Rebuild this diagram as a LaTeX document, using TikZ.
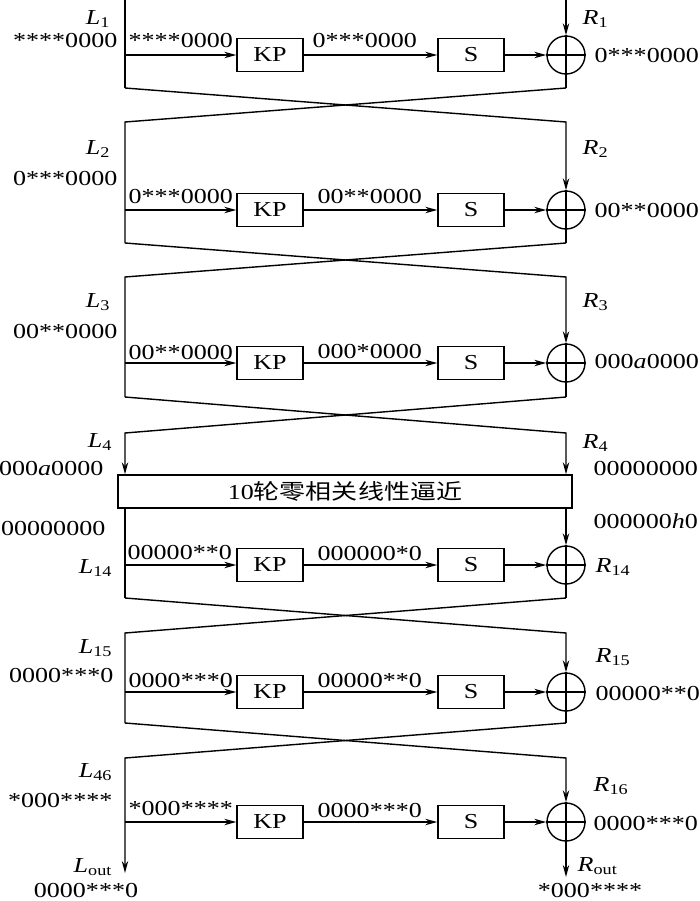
\documentclass[tikz,border=0pt]{standalone}
\usepackage{fontspec}
\setmainfont{Liberation Serif}
\newfontfamily\cjk{Noto Sans CJK SC}
\usetikzlibrary{arrows.meta}
\newcommand\W[1]{\scalebox{1.22}[1]{#1}}
\newcommand\Lb[2]{\W{\textit{#1}\textsubscript{#2}}}
\begin{document}
\begin{tikzpicture}[x=0.75pt,y=-0.75pt, line width=1.05pt,
  arr/.style={-{Stealth[length=9pt,width=4.8pt]}},
  fbox/.style={draw, minimum width=49.5pt, minimum height=24.75pt, inner sep=0pt, font=\fontsize{16}{19}\selectfont},
  xor/.style={draw, circle, minimum size=28.5pt, inner sep=0pt},
  lbl/.style={inner sep=0pt, font=\fontsize{16}{19}\selectfont},
]
\useasboundingbox (0,0) rectangle (700,901);

% ---------- round 1 ----------
\node[fbox] (kp1) at (270,55) {\W{KP}};
\node[fbox] (s1) at (471,55) {\W{S}};
\node[xor] (x1) at (566,55) {};
\coordinate (lt1) at (125,0); \coordinate (lm1) at (125,55); \coordinate (lb1) at (125,88);
\coordinate (rt1) at (566,0); \coordinate (rb1) at (566,88);
% ---------- round 2 ----------
\node[fbox] (kp2) at (270,210) {\W{KP}};
\node[fbox] (s2) at (471,210) {\W{S}};
\node[xor] (x2) at (566,210) {};
\coordinate (lt2) at (125,122); \coordinate (lm2) at (125,210); \coordinate (lb2) at (125,243);
\coordinate (rt2) at (566,122); \coordinate (rb2) at (566,243);
% ---------- round 3 ----------
\node[fbox] (kp3) at (270,363) {\W{KP}};
\node[fbox] (s3) at (471,363) {\W{S}};
\node[xor] (x3) at (566,363) {};
\coordinate (lt3) at (125,277); \coordinate (lm3) at (125,363); \coordinate (lb3) at (125,397);
\coordinate (rt3) at (566,277); \coordinate (rb3) at (566,397);
% ---------- round 4 / big box ----------
\coordinate (lt4) at (125,433); \coordinate (rt4) at (566,433);
\node[draw, minimum width=340.5pt, minimum height=24.75pt, inner sep=0pt] (big) at (345,491.5)
  {\fontsize{16}{19}\selectfont\W{10{\cjk 轮零相关线性逼近}}};
% ---------- round 14 ----------
\node[fbox] (kp14) at (270,565) {\W{KP}};
\node[fbox] (s14) at (471,565) {\W{S}};
\node[xor] (x14) at (566,565) {};
\coordinate (lm14) at (125,565); \coordinate (lb14) at (125,598);
\coordinate (rb14) at (566,598);
% ---------- round 15 ----------
\node[fbox] (kp15) at (270,692) {\W{KP}};
\node[fbox] (s15) at (471,692) {\W{S}};
\node[xor] (x15) at (566,692) {};
\coordinate (lt15) at (125,633); \coordinate (lm15) at (125,692); \coordinate (lb15) at (125,723);
\coordinate (rt15) at (566,633); \coordinate (rb15) at (566,723);
% ---------- round 16 ----------
\node[fbox] (kp16) at (270,822) {\W{KP}};
\node[fbox] (s16) at (471,822) {\W{S}};
\node[xor] (x16) at (566,822) {};
\coordinate (lt16) at (125,758); \coordinate (lm16) at (125,822); \coordinate (lout) at (125,873);
\coordinate (rt16) at (566,758); \coordinate (rout) at (566,877);

% ---------- connectors ----------
\foreach \r in {1,2,3,14,15,16}{
  \draw[arr] (lm\r) -- (kp\r);
  \draw[arr] (kp\r) -- (s\r);
  \draw[arr] (s\r) -- (x\r);
  \draw (x\r.north) -- (x\r.south) (x\r.west) -- (x\r.east);
}
\draw (lt1) -- (lb1);
\draw[arr] (rt1) -- (x1);
\draw (x1) -- (rb1);
\draw[arr] (lb1) -- (rt2) -- (x2);
\draw (rb1) -- (lt2) -- (lb2);
\draw (x2) -- (rb2);
\draw[arr] (lb2) -- (rt3) -- (x3);
\draw (rb2) -- (lt3) -- (lb3);
\draw (x3) -- (rb3);
\draw[arr] (lb3) -- (rt4) -- (rt4 |- big.north);
\draw[arr] (rb3) -- (lt4) -- (lt4 |- big.north);
\draw (lt4 |- big.south) -- (lb14);
\draw[arr] (rt4 |- big.south) -- (x14);
\draw (x14) -- (rb14);
\draw[arr] (lb14) -- (rt15) -- (x15);
\draw (rb14) -- (lt15) -- (lb15);
\draw (x15) -- (rb15);
\draw[arr] (lb15) -- (rt16) -- (x16);
\draw[arr] (rb15) -- (lt16) -- (lout);
\draw[arr] (x16) -- (rout);

% ---------- labels ----------
% round 1
\node[lbl, anchor=base east] (tL1) at (111,24) {\Lb{L}{1}};
\node[lbl, anchor=base east] (tl1) at (118,47) {\W{****0000}};
\node[lbl, anchor=base west] (ta1) at (128,47) {\W{****0000}};
\node[lbl, anchor=base west] (tb1) at (312,47) {\W{0***0000}};
\node[lbl, anchor=base west] (tR1) at (582,24) {\Lb{R}{1}};
\node[lbl, anchor=base west] (tr1) at (594,62) {\W{0***0000}};
% round 2
\node[lbl, anchor=base east] (tL2) at (111,154) {\Lb{L}{2}};
\node[lbl, anchor=base east] (tl2) at (118,185) {\W{0***0000}};
\node[lbl, anchor=base west] (ta2) at (128,203) {\W{0***0000}};
\node[lbl, anchor=base west] (tb2) at (317,203) {\W{00**0000}};
\node[lbl, anchor=base west] (tR2) at (582,154) {\Lb{R}{2}};
\node[lbl, anchor=base west] (tr2) at (594,217) {\W{00**0000}};
% round 3
\node[lbl, anchor=base east] (tL3) at (111,307) {\Lb{L}{3}};
\node[lbl, anchor=base east] (tl3) at (118,338) {\W{00**0000}};
\node[lbl, anchor=base west] (ta3) at (128,359) {\W{00**0000}};
\node[lbl, anchor=base west] (tb3) at (317,358) {\W{000*0000}};
\node[lbl, anchor=base west] (tR3) at (582,307) {\Lb{R}{3}};
\node[lbl, anchor=base west] (tr3) at (594,368) {\W{000\textit{a}0000}};
% round 4
\node[lbl, anchor=base east] (tL4) at (113,447) {\Lb{L}{4}};
\node[lbl, anchor=base east] (tl4) at (104,475) {\W{000\textit{a}0000}};
\node[lbl, anchor=base west] (tR4) at (582,448) {\Lb{R}{4}};
\node[lbl, anchor=base west] (tr4) at (593,475) {\W{00000000}};
\node[lbl, anchor=base east] (tl5) at (106,535) {\W{00000000}};
\node[lbl, anchor=base west] (tr5) at (593,528) {\W{000000\textit{h}0}};
% round 14
\node[lbl, anchor=base east] (tL14) at (113,573) {\Lb{L}{14}};
\node[lbl, anchor=base west] (ta14) at (127,559) {\W{00000**0}};
\node[lbl, anchor=base west] (tb14) at (317,560) {\W{000000*0}};
\node[lbl, anchor=base west] (tR14) at (595,572) {\Lb{R}{14}};
% round 15
\node[lbl, anchor=base east] (tL15) at (113,653) {\Lb{L}{15}};
\node[lbl, anchor=base east] (tl15) at (114,682) {\W{0000***0}};
\node[lbl, anchor=base west] (ta15) at (128,687) {\W{0000***0}};
\node[lbl, anchor=base west] (tb15) at (317,687) {\W{00000**0}};
\node[lbl, anchor=base west] (tR15) at (595,662) {\Lb{R}{15}};
\node[lbl, anchor=base west] (tr15) at (595,700) {\W{00000**0}};
% round 16
\node[lbl, anchor=base east] (tL16) at (113,777) {\Lb{L}{46}};
\node[lbl, anchor=base east] (tl16) at (113,807) {\W{*000****}};
\node[lbl, anchor=base west] (ta16) at (128,815) {\W{*000****}};
\node[lbl, anchor=base west] (tb16) at (317,817) {\W{0000***0}};
\node[lbl, anchor=base west] (tR16) at (593,791) {\Lb{R}{16}};
\node[lbl, anchor=base west] (tr16) at (593,830) {\W{0000***0}};
% outputs
\node[lbl, anchor=base east] (tLo) at (113,872) {\W{\textit{L}\textsubscript{out}}};
\node[lbl, anchor=base] (tlo) at (86,897) {\W{0000***0}};
\node[lbl, anchor=base west] (tRo) at (577,871) {\W{\textit{R}\textsubscript{out}}};
\node[lbl, anchor=base] (tro) at (590,897) {\W{*000****}};
\end{tikzpicture}
\end{document}
